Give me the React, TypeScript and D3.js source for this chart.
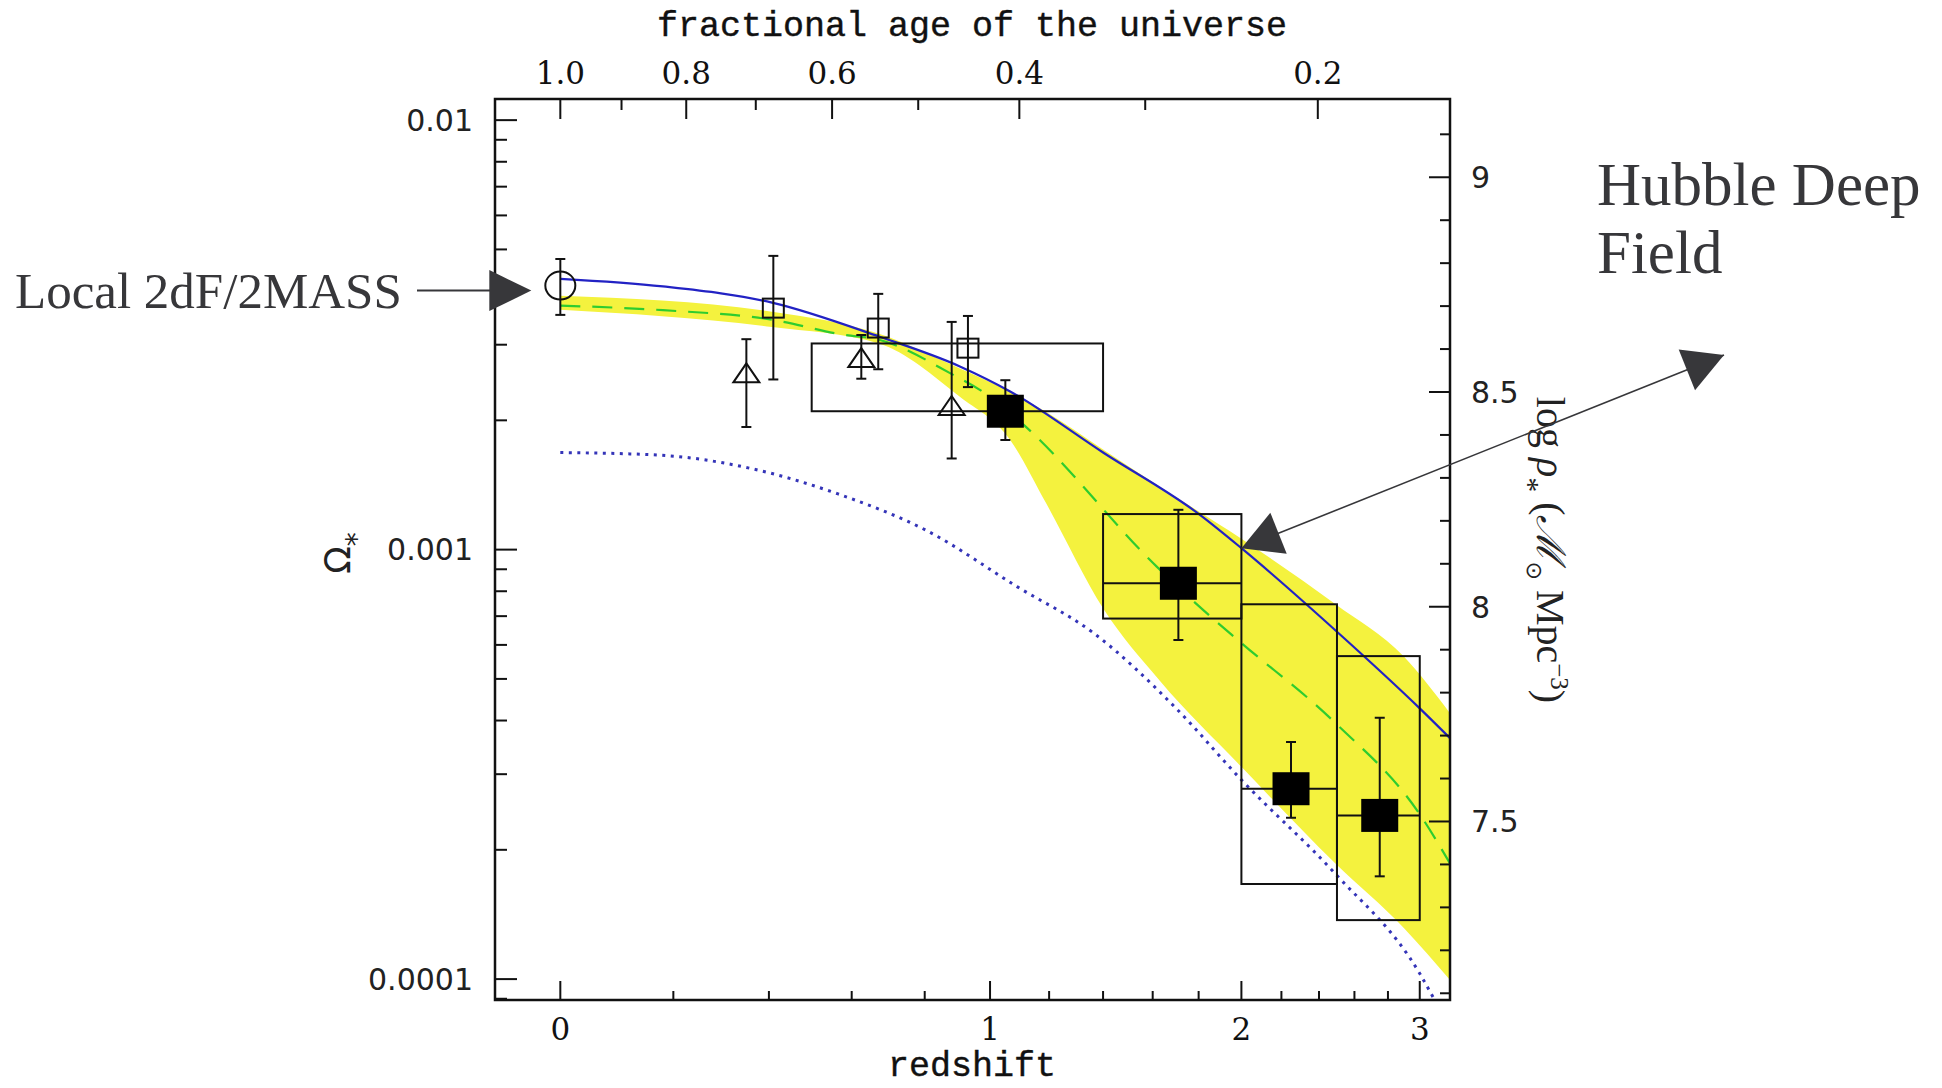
import React, { useEffect, useRef } from 'react'
import * as d3 from 'd3'

// local 2dF/2MASS point (redshift, Omega_*)
const localZ = [0]
const localOmega = [4.12e-3]
const localLo = [3.52e-3]
const localHi = [4.75e-3]

// open squares
const sqZ = [0.41, 0.67, 0.93]
const sqOmega = [3.65e-3, 3.28e-3, 2.945e-3]
const sqLo = [2.49e-3, 2.63e-3, 2.39e-3]
const sqHi = [4.83e-3, 3.94e-3, 3.5e-3]

// open triangles
const triZ = [0.35, 0.625, 0.88]
const triOmega = [2.58e-3, 2.8e-3, 2.165e-3]
const triLo = [1.93e-3, 2.5e-3, 1.63e-3]
const triHi = [3.09e-3, 3.16e-3, 3.39e-3]

// HDF filled squares
const hdfZ = [1.05, 1.71, 2.25, 2.75]
const hdfOmega = [2.1e-3, 8.35e-4, 2.775e-4, 2.405e-4]
const hdfLo = [1.8e-3, 6.16e-4, 2.375e-4, 1.735e-4]
const hdfHi = [2.48e-3, 1.238e-3, 3.565e-4, 4.06e-4]

// HDF redshift bins (boxes)
const boxZ0 = [0.5, 1.4, 2.0, 2.5]
const boxZ1 = [1.4, 2.0, 2.5, 3.0]
const boxLo = [2.1e-3, 6.91e-4, 1.665e-4, 1.372e-4]
const boxHi = [3.02e-3, 1.21e-3, 7.46e-4, 5.65e-4]
const boxMid = [null, 8.35e-4, 2.775e-4, 2.405e-4]

// model curves
const blueZ = [0, 0.18, 0.407, 0.672, 0.905, 1.066, 1.4, 1.806, 2.0, 2.5, 3.0, 3.2]
const blueOmega = [4.27e-3, 4.1e-3, 3.76e-3, 3.135e-3, 2.67e-3, 2.335e-3, 1.683e-3, 1.205e-3, 1.008e-3, 6.44e-4, 4.27e-4, 3.64e-4]

const greenZ = [0, 0.18, 0.407, 0.579, 0.672, 0.875, 1.0, 1.105, 1.617, 1.829, 2.0, 2.49, 3.0, 3.2]
const greenOmega = [3.7e-3, 3.61e-3, 3.43e-3, 3.165e-3, 3.08e-3, 2.576e-3, 2.27e-3, 1.97e-3, 9.13e-4, 7.17e-4, 6.06e-4, 3.95e-4, 2.42e-4, 1.86e-4]

const dotZ = [0, 0.172, 0.354, 0.565, 0.808, 1.089, 1.364, 1.7, 2.0, 2.49, 3.0, 3.1]
const dotOmega = [1.683e-3, 1.66e-3, 1.55e-3, 1.348e-3, 1.105e-3, 8.2e-4, 6.39e-4, 4.27e-4, 2.91e-4, 1.76e-4, 1.03e-4, 8.9e-5]

const bandZ = [0, 0.407, 0.672, 0.905, 1.066, 1.19, 1.4, 1.63, 2.0, 2.49, 2.9, 3.2]
const bandUpper = [3.9e-3, 3.58e-3, 3.18e-3, 2.64e-3, 2.33e-3, 2.09e-3, 1.71e-3, 1.4e-3, 1.06e-3, 7.47e-4, 5.63e-4, 4.16e-4]
const bandLower = [3.62e-3, 3.3e-3, 3.02e-3, 2.27e-3, 1.8e-3, 1.28e-3, 7.3e-4, 4.95e-4, 3.12e-4, 1.86e-4, 1.314e-4, 9.95e-5]

// axes
const zMajor = [0, 1, 2, 3]
const zMinor = [0.2, 0.4, 0.6, 0.8, 1.2, 1.4, 1.6, 1.8, 2.2, 2.4, 2.6, 2.8]
const ageMajor = [1.0, 0.8, 0.6, 0.4, 0.2]
const ageLabels = ['1.0', '0.8', '0.6', '0.4', '0.2']
const ageMinor = [0.9, 0.7, 0.5, 0.3]
const omegaMajor = [1e-2, 1e-3, 1e-4]
const omegaLabels = ['0.01', '0.001', '0.0001']
const rhoMajor = [9, 8.5, 8, 7.5]
const rhoLabels = ['9', '8.5', '8', '7.5']
const rhoCritLog = 11.133 // log10 of critical density, Msun/Mpc^3
const omegaM = 0.3

const MONO = '"Liberation Mono", monospace'
const SERIF = '"DejaVu Serif", serif'
const SANS = '"DejaVu Sans", sans-serif'
const TIMES = '"Liberation Serif", "Times New Roman", serif'

// redshift at which the universe had a given fraction of its present age (flat LCDM)
function zFromAge(f: number) {
  const k = Math.sqrt((1 - omegaM) / omegaM)
  const a = Math.pow(Math.sinh(f * Math.asinh(k)) / k, 2 / 3)
  return 1 / a - 1
}

function arrowHead(tip: number[], from: number[], len: number, half: number) {
  const dx = tip[0] - from[0], dy = tip[1] - from[1]
  const l = Math.hypot(dx, dy)
  const ux = dx / l, uy = dy / l
  const bx = tip[0] - ux * len, by = tip[1] - uy * len
  return [[tip[0], tip[1]], [bx - uy * half, by + ux * half], [bx + uy * half, by - ux * half]]
}

export default function App() {
  const ref = useRef<SVGSVGElement>(null)

  useEffect(() => {
    const svg = d3.select(ref.current)
    svg.selectAll('*').remove()

    const L = 495, R = 1450, T = 99, B = 1000
    const x = d3.scaleLog().domain([0.9, 4.2]).range([L, R])
    const xz = (z: number) => x(1 + z)
    const y = d3.scaleLog().domain([8.94e-5, 0.0112]).range([B, T])
    const yRho = d3.scaleLinear()
      .domain([Math.log10(8.94e-5) + rhoCritLog, Math.log10(0.0112) + rhoCritLog])
      .range([B, T])

    svg.append('defs').append('clipPath').attr('id', 'plotclip')
      .append('rect').attr('x', L).attr('y', T).attr('width', R - L).attr('height', B - T)

    const plot = svg.append('g').attr('clip-path', 'url(#plotclip)')

    // yellow band
    const band = d3.area<number>()
      .x(i => xz(bandZ[i]))
      .y0(i => y(bandLower[i]))
      .y1(i => y(bandUpper[i]))
      .curve(d3.curveMonotoneX)
    plot.append('path').attr('d', band(d3.range(bandZ.length)))
      .attr('fill', '#f4f23e')

    const curve = (zs: number[], vs: number[]) =>
      d3.line<number>().x(i => xz(zs[i])).y(i => y(vs[i])).curve(d3.curveMonotoneX)(d3.range(zs.length))

    plot.append('path').attr('d', curve(dotZ, dotOmega))
      .attr('fill', 'none').attr('stroke', '#3434b8').attr('stroke-width', 3)
      .attr('stroke-dasharray', '3 5.5')
    plot.append('path').attr('d', curve(greenZ, greenOmega))
      .attr('fill', 'none').attr('stroke', '#2fcc2f').attr('stroke-width', 2.2)
      .attr('stroke-dasharray', '20 12')
    plot.append('path').attr('d', curve(blueZ, blueOmega))
      .attr('fill', 'none').attr('stroke', '#2222c4').attr('stroke-width', 2.2)

    const ink = '#111'
    const g = svg.append('g').attr('stroke', ink).attr('stroke-width', 2).attr('fill', 'none')

    // boxes
    boxZ0.forEach((z0, i) => {
      const x0 = xz(z0), x1 = xz(boxZ1[i])
      g.append('rect').attr('x', x0).attr('y', y(boxHi[i]))
        .attr('width', x1 - x0).attr('height', y(boxLo[i]) - y(boxHi[i]))
      const m = boxMid[i]
      if (m != null) {
        g.append('line').attr('x1', x0).attr('x2', x1).attr('y1', y(m)).attr('y2', y(m))
      }
    })

    // error bars
    const errorBars = (zs: number[], lo: number[], hi: number[]) => {
      zs.forEach((z, i) => {
        const cx = xz(z)
        g.append('line').attr('x1', cx).attr('x2', cx).attr('y1', y(lo[i])).attr('y2', y(hi[i]))
        g.append('line').attr('x1', cx - 5).attr('x2', cx + 5).attr('y1', y(lo[i])).attr('y2', y(lo[i]))
        g.append('line').attr('x1', cx - 5).attr('x2', cx + 5).attr('y1', y(hi[i])).attr('y2', y(hi[i]))
      })
    }
    errorBars(localZ, localLo, localHi)
    errorBars(sqZ, sqLo, sqHi)
    errorBars(triZ, triLo, triHi)
    errorBars(hdfZ, hdfLo, hdfHi)

    // markers
    localZ.forEach((z, i) => {
      g.append('ellipse').attr('cx', xz(z)).attr('cy', y(localOmega[i])).attr('rx', 15).attr('ry', 14)
    })
    sqZ.forEach((z, i) => {
      g.append('rect').attr('x', xz(z) - 10.5).attr('y', y(sqOmega[i]) - 9.5).attr('width', 21).attr('height', 19)
    })
    triZ.forEach((z, i) => {
      const cx = xz(z), cy = y(triOmega[i])
      g.append('path').attr('d', `M${cx},${cy - 9.5}L${cx + 13},${cy + 9.5}L${cx - 13},${cy + 9.5}Z`)
    })
    hdfZ.forEach((z, i) => {
      g.append('rect').attr('x', xz(z) - 17.5).attr('y', y(hdfOmega[i]) - 15.5).attr('width', 35).attr('height', 31)
        .attr('fill', '#000').attr('stroke', '#000')
    })

    // frame
    svg.append('rect').attr('x', L).attr('y', T).attr('width', R - L).attr('height', B - T)
      .attr('fill', 'none').attr('stroke', ink).attr('stroke-width', 2.5)

    const ticks = svg.append('g').attr('stroke', ink).attr('stroke-width', 2)
    // bottom
    zMajor.forEach(z => ticks.append('line').attr('x1', xz(z)).attr('x2', xz(z)).attr('y1', B).attr('y2', B - 19))
    zMinor.forEach(z => ticks.append('line').attr('x1', xz(z)).attr('x2', xz(z)).attr('y1', B).attr('y2', B - 9))
    // top (age of the universe)
    ageMajor.forEach(f => { const px = xz(zFromAge(f)); ticks.append('line').attr('x1', px).attr('x2', px).attr('y1', T).attr('y2', T + 20) })
    ageMinor.forEach(f => { const px = xz(zFromAge(f)); ticks.append('line').attr('x1', px).attr('x2', px).attr('y1', T).attr('y2', T + 11) })
    // left (Omega_*)
    for (let d = -5; d <= -2; d++) {
      for (let m = 1; m <= 9; m++) {
        const v = m * Math.pow(10, d)
        if (v < 8.94e-5 || v > 0.0112) continue
        ticks.append('line').attr('x1', L).attr('x2', L + (m === 1 ? 22 : 12)).attr('y1', y(v)).attr('y2', y(v))
      }
    }
    // right (log rho_*)
    d3.range(71, 92).forEach(k => {
      const v = k / 10
      const major = k % 5 === 0
      ticks.append('line').attr('x1', R).attr('x2', R - (major ? 21 : 10)).attr('y1', yRho(v)).attr('y2', yRho(v))
    })

    const txt = svg.append('g').attr('fill', ink)
    zMajor.forEach(z => txt.append('text').attr('x', xz(z)).attr('y', 1040).attr('text-anchor', 'middle')
      .attr('font-family', SERIF).attr('font-size', 31).text(String(z)))
    ageMajor.forEach((f, i) => txt.append('text').attr('x', xz(zFromAge(f))).attr('y', 84).attr('text-anchor', 'middle')
      .attr('font-family', SERIF).attr('font-size', 31).text(ageLabels[i]))
    omegaMajor.forEach((v, i) => txt.append('text').attr('x', 473).attr('y', y(v)).attr('dy', '0.36em')
      .attr('text-anchor', 'end').attr('font-family', SANS).attr('font-size', 30).attr('fill', '#222').text(omegaLabels[i]))
    rhoMajor.forEach((v, i) => txt.append('text').attr('x', 1471).attr('y', yRho(v)).attr('dy', '0.36em')
      .attr('font-family', SANS).attr('font-size', 30).attr('fill', '#222').text(rhoLabels[i]))

    txt.append('text').attr('x', 972).attr('y', 36).attr('text-anchor', 'middle')
      .attr('font-family', MONO).attr('font-size', 35).attr('stroke', ink).attr('stroke-width', 0.4)
      .text('fractional age of the universe')
    txt.append('text').attr('x', 972).attr('y', 1076).attr('text-anchor', 'middle')
      .attr('font-family', MONO).attr('font-size', 35).attr('stroke', ink).attr('stroke-width', 0.4)
      .text('redshift')

    // Omega_* label
    const om = txt.append('text').attr('transform', 'translate(350,553) rotate(-90)')
      .attr('text-anchor', 'middle').attr('font-family', SANS).attr('font-size', 36).attr('fill', '#222')
    om.append('tspan').text('Ω')
    om.append('tspan').attr('dy', 16).attr('font-size', 28).text('*')

    // log rho_* label
    const rl = txt.append('text').attr('transform', 'translate(1537,550) rotate(90)')
      .attr('text-anchor', 'middle').attr('font-family', TIMES).attr('font-size', 40).attr('fill', '#222')
    rl.append('tspan').text('log ')
    rl.append('tspan').attr('font-style', 'italic').text('ρ')
    rl.append('tspan').attr('dy', 18).attr('font-size', 30).text('*')
    rl.append('tspan').attr('dy', -18).text(' (')
    rl.append('tspan').attr('font-style', 'italic').text('ℳ')
    rl.append('tspan').attr('dy', 10).attr('font-size', 22).attr('font-family', SANS).text('⊙')
    rl.append('tspan').attr('dy', -10).text(' Mpc')
    rl.append('tspan').attr('dy', -14).attr('font-size', 25).text('−3')
    rl.append('tspan').attr('dy', 14).text(')')

    // annotations
    const anno = '#37373a'
    const localTip = [xz(localZ[0]) - 29, y(localOmega[0]) + 5]
    svg.append('line').attr('x1', 417).attr('x2', localTip[0] - 40).attr('y1', localTip[1]).attr('y2', localTip[1])
      .attr('stroke', anno).attr('stroke-width', 2)
    svg.append('polygon').attr('points', arrowHead(localTip, [417, localTip[1]], 42, 20.5).join(' ')).attr('fill', anno)
    svg.append('text').attr('x', 15).attr('y', 308).attr('font-family', TIMES).attr('font-size', 51)
      .attr('fill', anno).text('Local 2dF/2MASS')

    const hdfTip = [xz(2.0), y(blueOmega[blueZ.indexOf(2.0)])]
    const hdfEnd = [1724, 355]
    svg.append('line').attr('x1', hdfTip[0]).attr('y1', hdfTip[1]).attr('x2', hdfEnd[0]).attr('y2', hdfEnd[1])
      .attr('stroke', anno).attr('stroke-width', 1.6)
    svg.append('polygon').attr('points', arrowHead(hdfTip, hdfEnd, 40, 22).join(' ')).attr('fill', anno)
    svg.append('polygon').attr('points', arrowHead(hdfEnd, hdfTip, 40, 22).join(' ')).attr('fill', anno)
    svg.append('text').attr('x', 1597).attr('y', 205).attr('font-family', TIMES).attr('font-size', 61)
      .attr('fill', anno).text('Hubble Deep')
    svg.append('text').attr('x', 1597).attr('y', 273).attr('font-family', TIMES).attr('font-size', 61)
      .attr('fill', anno).text('Field')
  }, [])

  return (
    <svg ref={ref} width={1942} height={1088}
      style={{ position: 'absolute', left: 0, top: 0, background: '#fff' }} />
  )
}
